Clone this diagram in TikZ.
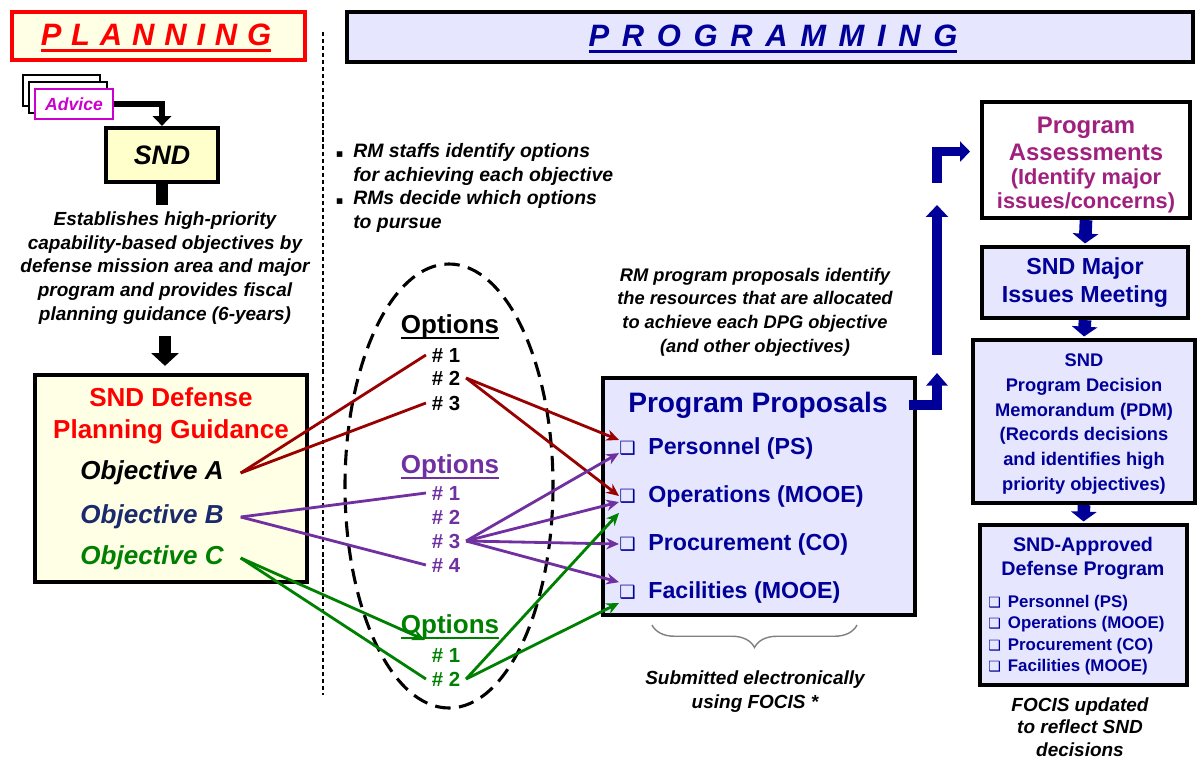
\documentclass[tikz,border=0pt]{standalone}
\usepackage{fontspec}
\setmainfont{Liberation Sans}
\newfontfamily\dingf{DejaVu Sans}
\usetikzlibrary{arrows.meta,decorations.pathreplacing,fit}

\definecolor{planred}{HTML}{FF0000}
\definecolor{ivory}{HTML}{FFFFE6}
\definecolor{sndyellow}{HTML}{FFFFCC}
\definecolor{lavend}{HTML}{E6E6FF}
\definecolor{navy}{HTML}{000099}
\definecolor{objnavy}{HTML}{1B2A6B}
\definecolor{optred}{HTML}{990000}
\definecolor{optpurple}{HTML}{7030A0}
\definecolor{optgreen}{HTML}{008000}
\definecolor{advmag}{HTML}{CC00CC}
\definecolor{assessmag}{HTML}{A0207E}

\newcommand\undl[1]{\leavevmode\setbox0\hbox{#1}\rlap{\vrule height -2.5pt depth 4.2pt width \wd0}\box0}
\newcommand\fsz[2]{\fontsize{#1}{#2}\selectfont}

\tikzset{
  panel/.style={draw, line width=3pt, inner sep=0pt},
  txt/.style={align=center, inner sep=0pt},
  obj/.style={txt, font=\fsz{18.5}{22}\bfseries\itshape, inner xsep=12pt},
  opt/.style={txt, font=\fsz{18.5}{22}\bfseries},
  item/.style={txt, font=\fsz{14.5}{17}\bfseries, inner xsep=4pt},
  ppitem/.style={anchor=west, inner sep=0pt, text=navy, font=\fsz{16.5}{20}\bfseries},
  optline/.style={line width=2pt},
  opttip/.style={-{Stealth[length=9pt,width=8pt]}},
  blockarrow/.style={navy, line width=9pt, line join=miter, -{Triangle[width=18pt,length=7pt]}}
}

\begin{document}
\begin{tikzpicture}[x=0.025cm,y=-0.025cm]
\useasboundingbox (0,0) rectangle (1199,763);

% headers
\node[panel, draw=planred, fill=ivory, fit={(12,12)(305,60)}] (planbox) {};
\node[txt, text=planred, font=\fsz{22}{26}\bfseries\itshape] (plan) at (156,38) {\spaceskip=7pt\relax\undl{P L A N N I N G}};
\node[panel, fill=lavend, fit={(347,12)(1193,62)}] (progbox) {};
\node[txt, text=navy, font=\fsz{22}{26}\bfseries\itshape] (prog) at (773,39) {\spaceskip=9pt\relax\undl{P R O G R A M M I N G}};
\draw[line width=0.8pt, dash pattern=on 3pt off 2pt] (323,32) -- (323,695);

% planning side
\node[panel, line width=1.8pt, fill=white, fit={(23,75)(100,106)}] (adv3) {};
\node[panel, line width=1.8pt, fill=white, fit={(29,82)(107,113)}] (adv2) {};
\node[panel, line width=1.8pt, draw=advmag, fill=white, fit={(35,89)(113,119)}] (adv1) {};
\node[txt, text=advmag, font=\fsz{12.5}{15}\bfseries\itshape] (advtxt) at (adv1) {Advice};
\node[panel, fill=sndyellow, fit={(106,128)(218,182)}] (sndbox) {};
\node[txt, font=\fsz{19}{22}\bfseries\itshape] (snd) at (sndbox) {SND};
\draw[line width=4.5pt, -{Triangle[width=13pt,length=7pt]}] (adv1.east) -| (sndbox.north);

\node[txt, font=\fsz{13.5}{17}\bfseries\itshape] (estab) at (165,268)
  {Establishes high-priority\\capability-based objectives by\\defense mission area and major\\program and provides fiscal\\planning guidance (6-years)};
\draw[line width=9pt] (sndbox.south) -- ([yshift=4pt]sndbox.south |- estab.north);

\node[panel, fill=ivory, fit={(35,375)(307,582)}] (dpgbox) {};
\draw[line width=9pt, -{Triangle[width=19pt,length=9pt]}, shorten <=8pt, shorten >=5pt]
  (estab.south) -- (estab.south |- dpgbox.north);
\node[txt, text=planred, font=\fsz{18.5}{23}\bfseries] (dpg) at (171,416) {SND Defense\\Planning Guidance};
\node[obj] (obja) at (152,473) {Objective A};
\node[obj, text=objnavy] (objb) at (152,517) {Objective B};
\node[obj, text=optgreen] (objc) at (152,558) {Objective C};

% options
\node[txt, font=\fsz{13.8}{16.7}\bfseries\itshape, anchor=west, align=left] (rmstaff) at (353,188)
  {\llap{{\dingf\fsz{8}{10}▪}\hspace{7pt}}RM staffs identify options\\for achieving each objective\\\llap{{\dingf\fsz{8}{10}▪}\hspace{7pt}}RMs decide which options\\to pursue};
\draw[line width=2.2pt, dash pattern=on 11pt off 6pt] (449,486) ellipse [x radius=104, y radius=222];

\node[opt] (ropt) at (450,327) {\undl{Options}};
\node[item] (r1) at (446,355) {\# 1};
\node[item] (r2) at (446,378) {\# 2};
\node[item] (r3) at (446,403) {\# 3};
\node[opt, text=optpurple] (popt) at (450,467) {\undl{Options}};
\node[item, text=optpurple] (p1) at (446,493) {\# 1};
\node[item, text=optpurple] (p2) at (446,517) {\# 2};
\node[item, text=optpurple] (p3) at (446,541) {\# 3};
\node[item, text=optpurple] (p4) at (446,565) {\# 4};
\node[opt, text=optgreen] (gopt) at (450,627) {\undl{Options}};
\node[item, text=optgreen] (g1) at (446,655) {\# 1};
\node[item, text=optgreen] (g2) at (446,679) {\# 2};
\coordinate (gtip) at (425,640);

% program proposals
\node[txt, font=\fsz{13}{16.8}\bfseries\itshape] (rmprop) at (755,312)
  {RM program proposals identify\\the resources that are allocated\\to achieve each DPG objective\\(and other objectives)};
\node[panel, fill=lavend, fit={(603,378)(915,615)}] (pp) {};
\node[txt, text=navy, font=\fsz{20}{24}\bfseries] (ppt) at (758,405) {Program Proposals};
\node[ppitem] (ps) at (619,448) {{\dingf\fsz{13}{15}❑}\hspace{9pt}Personnel (PS)};
\node[ppitem] (op) at (619,496) {{\dingf\fsz{13}{15}❑}\hspace{9pt}Operations (MOOE)};
\node[ppitem] (pc) at (619,544) {{\dingf\fsz{13}{15}❑}\hspace{9pt}Procurement (CO)};
\node[ppitem] (fc) at (619,592) {{\dingf\fsz{13}{15}❑}\hspace{9pt}Facilities (MOOE)};
\draw[gray, line width=1pt, decorate, decoration={brace, mirror, amplitude=16pt}] (652,625) -- (857,625);
\node[txt, font=\fsz{13.5}{17}\bfseries\itshape] (subm) at (755,692) {Submitted electronically\\using FOCIS *};

% option links
\draw[optline, optred] (obja.east) -- (r1.west);
\draw[optline, optred] (obja.east) -- (r3.west);
\draw[optline, optred, opttip] (r2.east) -- ([yshift=5.7pt]ps.west);
\draw[optline, optred, opttip] (r2.east) -- (op.west);
\draw[optline, optpurple] (objb.east) -- (p1.west);
\draw[optline, optpurple] (objb.east) -- (p4.west);
\foreach \t/\s in {ps/-3.6pt, op/-4.3pt, pc/0pt, fc/7pt}
  \draw[optline, optpurple, opttip] (p3.east) -- ([yshift=\s]\t.west);
\draw[optline, optgreen, opttip] (objc.east) -- (gtip);
\draw[optline, optgreen] (objc.east) -- (g2.west);
\draw[optline, optgreen, opttip] (g2.east) -- ([yshift=-12pt]op.west);
\draw[optline, optgreen, opttip] (g2.east) -- ([yshift=-7.8pt]fc.west);

% review column
\node[panel, fill=white, fit={(982,102)(1190,218)}] (pa) {};
\node[txt, text=assessmag, font=\fsz{17}{19}\bfseries] (patx) at (1086,139) {Program\\Assessments};
\node[txt, text=assessmag, font=\fsz{15.5}{17}\bfseries] (pasub) at (1086,191) {(Identify major\\issues/concerns)};
\node[panel, fill=lavend, fit={(982,247)(1188,318)}] (mim) {};
\node[txt, text=navy, font=\fsz{16.5}{20}\bfseries] (mimtx) at (mim) {SND Major\\Issues Meeting};
\node[panel, fill=lavend, fit={(973,340)(1195,503)}] (pdm) {};
\node[txt, text=navy, font=\fsz{13}{17.6}\bfseries] (pdmtx) at (1084,424)
  {SND\\Program Decision\\Memorandum (PDM)\\(Records decisions\\and identifies high\\priority objectives)};
\node[panel, fill=lavend, fit={(980,525)(1187,685)}] (apd) {};
\node[txt, text=navy, font=\fsz{14}{17}\bfseries] (apdtx) at (1083,558) {SND-Approved\\Defense Program};
\node[txt, text=navy, font=\fsz{12}{15.2}\bfseries, anchor=west, align=left] (apdlist) at (988,635)
  {{\dingf\fsz{10}{12}❑}\hspace{5pt}Personnel (PS)\\{\dingf\fsz{10}{12}❑}\hspace{5pt}Operations (MOOE)\\{\dingf\fsz{10}{12}❑}\hspace{5pt}Procurement (CO)\\{\dingf\fsz{10}{12}❑}\hspace{5pt}Facilities (MOOE)};
\node[txt, font=\fsz{13.5}{16}\bfseries\itshape] (focis) at (1080,727) {FOCIS updated\\to reflect SND\\decisions};

\draw[blockarrow, shorten >=1pt] (pa.south) -- (mim.north);
\draw[blockarrow, shorten >=1pt] (mim.south) -- (pdm.north);
\draw[blockarrow, shorten >=1pt] (pdm.south) -- (apd.north);

% upward path
\coordinate (uptip) at (937,373);
\coordinate (lowarr) at (937,355);
\coordinate (higharr) at (937,205);
\coordinate (elbow) at (937,183);
\draw[blockarrow, line width=7pt, -{Triangle[width=15pt,length=9pt]}] ([xshift=-6pt]pp.east |- ppt) -| (uptip);
\draw[blockarrow, line width=6.5pt, -{Triangle[width=15.5pt,length=8.5pt]}] (lowarr) -- (higharr);
\draw[blockarrow, line width=7pt, -{Triangle[width=14pt,length=7pt]}, shorten >=7pt] (elbow) |- ([yshift=6pt]pa.west);
\end{tikzpicture}
\end{document}
